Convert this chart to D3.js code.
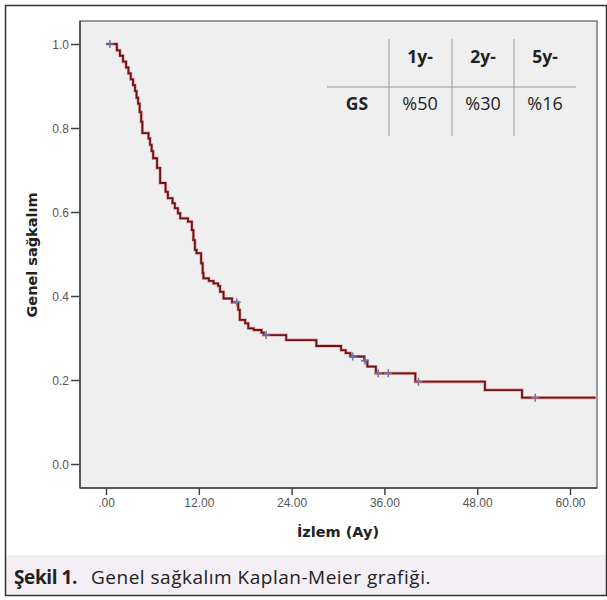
<!DOCTYPE html>
<html>
<head>
<meta charset="utf-8">
<script src="https://cdn.jsdelivr.net/npm/d3@7"></script>
<style>
  body { margin: 0; background: #fff; }
  svg { display: block; }
</style>
</head>
<body>
<div id="chart"></div>
<script>
// Kaplan-Meier steps (months, survival after the drop)
var eventTimes = [0, 1.4, 1.8, 2.2, 2.6, 2.9, 3.2, 3.5, 3.75, 3.95, 4.15, 4.35, 4.55, 4.7,
  5.5, 5.7, 5.9, 6.1, 6.6, 7.0, 7.7, 8.0, 8.6, 8.9, 9.3, 9.6, 10.6, 11.1, 11.3, 11.5, 11.7,
  12.3, 12.5, 12.6, 13.3, 13.9, 14.5, 14.75, 15.2, 16.3, 17.1, 17.3, 18.0, 18.4, 19.1, 20.1,
  20.4, 23.3, 27.2, 30.4, 31.0, 31.6, 33.4, 33.8, 34.9, 40.0, 49.0, 53.8, 63.3];
var survival = [1.0, 0.985, 0.972, 0.958, 0.944, 0.930, 0.916, 0.902, 0.888, 0.872, 0.858, 0.838, 0.815, 0.788,
  0.775, 0.760, 0.745, 0.728, 0.705, 0.669, 0.648, 0.633, 0.621, 0.609, 0.597, 0.585, 0.577, 0.557, 0.533, 0.510, 0.502,
  0.478, 0.455, 0.442, 0.436, 0.430, 0.424, 0.410, 0.394, 0.385, 0.367, 0.343, 0.335, 0.323, 0.319, 0.313,
  0.307, 0.295, 0.281, 0.271, 0.264, 0.256, 0.246, 0.232, 0.216, 0.196, 0.176, 0.158, 0.158];
var censorTimes = [0.5, 16.9, 20.7, 31.9, 33.5, 35.2, 36.5, 40.4, 55.5];

var xTickValues = [0, 12, 24, 36, 48, 60];
var xTickLabels = ['.00', '12.00', '24.00', '36.00', '48.00', '60.00'];
var yTickValues = [0, 0.2, 0.4, 0.6, 0.8, 1.0];
var yTickLabels = ['0.0', '0.2', '0.4', '0.6', '0.8', '1.0'];

var tableHeaders = ['1y-', '2y-', '5y-'];
var tableRowLabel = 'GS';
var tableValues = ['%50', '%30', '%16'];

var svgWidth = 607;
var svgHeight = 600;

// plot frame (SPSS grey panel)
var plot = { left: 80, top: 21, right: 597, bottom: 488 };

var svg = d3.select('#chart')
  .append('svg')
  .attr('width', svgWidth)
  .attr('height', svgHeight);

// outer figure box + caption band
svg.append('rect')
  .attr('x', 5.5).attr('y', 5.5)
  .attr('width', 601).attr('height', 590)
  .attr('fill', '#fff');
svg.append('rect')
  .attr('x', 5.5).attr('y', 555)
  .attr('width', 601).attr('height', 40.5)
  .attr('fill', '#f3eff5');
svg.append('rect')
  .attr('x', 5.5).attr('y', 5.5)
  .attr('width', 601).attr('height', 590)
  .attr('fill', 'none')
  .attr('stroke', '#333')
  .attr('stroke-width', 1.5);

// scales
var x = d3.scaleLinear().domain([0, 60]).range([106, 570]);
var y = d3.scaleLinear().domain([0, 1]).range([464, 44]);

// panel
svg.append('rect')
  .attr('x', plot.left).attr('y', plot.top)
  .attr('width', plot.right - plot.left)
  .attr('height', plot.bottom - plot.top)
  .attr('fill', '#efefef')
  .attr('stroke', '#7a7a7a')
  .attr('stroke-width', 1.5);

// axes
var yAxis = d3.axisLeft(y)
  .tickValues(yTickValues)
  .tickFormat(function(d, i) { return yTickLabels[i]; })
  .tickSize(9)
  .tickSizeOuter(0);
var yAxisG = svg.append('g')
  .attr('transform', 'translate(' + plot.left + ',0)')
  .call(yAxis);

var xAxis = d3.axisBottom(x)
  .tickValues(xTickValues)
  .tickFormat(function(d, i) { return xTickLabels[i]; })
  .tickSize(7)
  .tickSizeOuter(0);
var xAxisG = svg.append('g')
  .attr('transform', 'translate(0,' + plot.bottom + ')')
  .call(xAxis);

[xAxisG, yAxisG].forEach(function(g) {
  g.select('.domain').remove();
  g.selectAll('.tick line').attr('stroke', '#444').attr('stroke-width', 1.5);
  g.selectAll('.tick text')
    .attr('fill', '#555')
    .style('font-family', '"Liberation Sans", Arial, sans-serif')
    .style('font-size', '12px');
});
yAxisG.selectAll('.tick text').attr('x', -11).attr('dy', '0.35em');
xAxisG.selectAll('.tick text').attr('y', 10);

// left and bottom axis lines, darker than the frame
svg.append('line')
  .attr('x1', plot.left).attr('x2', plot.left)
  .attr('y1', plot.top).attr('y2', plot.bottom)
  .attr('stroke', '#444').attr('stroke-width', 1.5);
svg.append('line')
  .attr('x1', plot.left).attr('x2', plot.right)
  .attr('y1', plot.bottom).attr('y2', plot.bottom)
  .attr('stroke', '#444').attr('stroke-width', 1.5);

// axis titles
svg.append('text')
  .attr('x', 338).attr('y', 537)
  .attr('text-anchor', 'middle')
  .attr('fill', '#222')
  .style('font-family', '"DejaVu Sans", Verdana, sans-serif')
  .style('font-weight', 'bold')
  .style('font-size', '14.5px')
  .text('İzlem (Ay)');

svg.append('text')
  .attr('transform', 'translate(37,255) rotate(-90)')
  .attr('text-anchor', 'middle')
  .attr('fill', '#222')
  .style('font-family', '"DejaVu Sans", Verdana, sans-serif')
  .style('font-weight', 'bold')
  .style('font-size', '14.5px')
  .text('Genel sağkalım');

// survival curve
var kmData = eventTimes.map(function(t, i) { return { t: t, s: survival[i] }; });

svg.append('clipPath').attr('id', 'plotclip')
  .append('rect')
  .attr('x', plot.left).attr('y', plot.top)
  .attr('width', plot.right - plot.left).attr('height', plot.bottom - plot.top);

var stepLine = d3.line()
  .x(function(d) { return x(d.t); })
  .y(function(d) { return y(d.s); })
  .curve(d3.curveStepAfter);

var curveG = svg.append('g').attr('clip-path', 'url(#plotclip)');
curveG.append('path')
  .datum(kmData)
  .attr('d', stepLine)
  .attr('fill', 'none')
  .attr('stroke', '#d04848')
  .attr('stroke-opacity', 0.55)
  .attr('stroke-width', 3);
curveG.append('path')
  .datum(kmData)
  .attr('d', stepLine)
  .attr('fill', 'none')
  .attr('stroke', '#6e1418')
  .attr('stroke-width', 1.8);

// censor marks
function survAt(t) {
  var s = survival[0];
  for (var i = 0; i < eventTimes.length; i++) {
    if (eventTimes[i] <= t) s = survival[i];
  }
  return s;
}
curveG.selectAll('.censor')
  .data(censorTimes)
  .enter()
  .append('path')
  .attr('class', 'censor')
  .attr('d', function(t) {
    var cx = x(t), cy = y(survAt(t));
    return 'M' + (cx - 4) + ',' + cy + 'H' + (cx + 4) + 'M' + cx + ',' + (cy - 4) + 'V' + (cy + 4);
  })
  .attr('stroke', '#7272aa')
  .attr('stroke-width', 1.5)
  .attr('fill', 'none');

// inset table
var colX = [420, 483, 545];
var table = svg.append('g');
[389, 452, 514].forEach(function(lx) {
  table.append('line')
    .attr('x1', lx).attr('x2', lx)
    .attr('y1', 39).attr('y2', 136)
    .attr('stroke', '#999').attr('stroke-width', 1);
});
table.append('line')
  .attr('x1', 327).attr('x2', 576)
  .attr('y1', 87).attr('y2', 87)
  .attr('stroke', '#999').attr('stroke-width', 1);

table.selectAll('.hdr')
  .data(tableHeaders)
  .enter()
  .append('text')
  .attr('x', function(d, i) { return colX[i]; })
  .attr('y', 63)
  .attr('text-anchor', 'middle')
  .attr('fill', '#222')
  .style('font-family', '"Open Sans", sans-serif')
  .style('font-weight', 'bold')
  .style('font-size', '17.5px')
  .text(function(d) { return d; });

table.append('text')
  .attr('x', 357).attr('y', 110)
  .attr('text-anchor', 'middle')
  .attr('fill', '#222')
  .style('font-family', '"Open Sans", sans-serif')
  .style('font-weight', 'bold')
  .style('font-size', '17.5px')
  .text(tableRowLabel);

table.selectAll('.val')
  .data(tableValues)
  .enter()
  .append('text')
  .attr('x', function(d, i) { return colX[i]; })
  .attr('y', 110)
  .attr('text-anchor', 'middle')
  .attr('fill', '#222')
  .style('font-family', '"Open Sans", sans-serif')
  .style('font-size', '18px')
  .text(function(d) { return d; });

// caption
var caption = svg.append('text')
  .attr('x', 14).attr('y', 584)
  .attr('fill', '#222')
  .style('font-family', '"Open Sans", sans-serif')
  .style('font-size', '19px');
caption.append('tspan')
  .style('font-weight', 'bold')
  .style('letter-spacing', '-0.4px')
  .text('Şekil 1.');
caption.append('tspan')
  .attr('x', 91)
  .style('letter-spacing', '0.5px')
  .text('Genel sağkalım Kaplan-Meier grafiği.');
</script>
</body>
</html>
